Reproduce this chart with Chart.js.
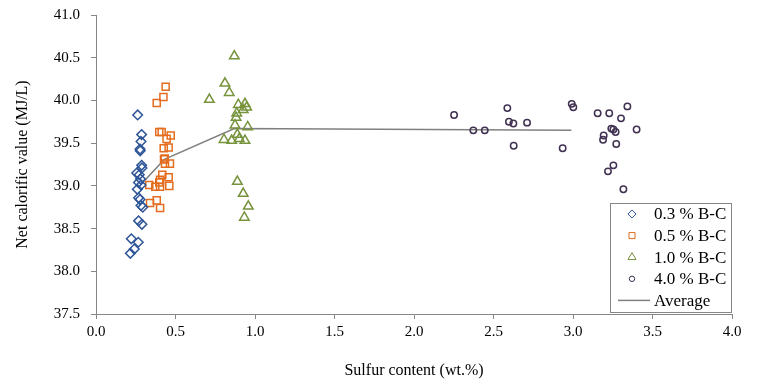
<!DOCTYPE html>
<html>
<head>
<meta charset="utf-8">
<script src="https://cdn.jsdelivr.net/npm/chart.js"></script>
<style>
  body { margin: 0; background: #fff; }
  #wrap { width: 761px; height: 388px; position: relative; }
</style>
</head>
<body>
<div id="wrap"><canvas id="myChart"></canvas></div>
<script>
// sulfur content (wt.%) and net calorific value (MJ/L)
var bc03Sulfur = [0.262, 0.287, 0.283, 0.277, 0.278, 0.287, 0.289, 0.256, 0.272, 0.280, 0.267, 0.283, 0.260, 0.268, 0.277, 0.283, 0.294, 0.268, 0.289, 0.222, 0.266, 0.241, 0.216];
var bc03Ncv    = [39.83, 39.60, 39.52, 39.43, 39.41, 39.24, 39.21, 39.15, 39.13, 39.08, 39.04, 39.01, 38.96, 38.86, 38.84, 38.77, 38.75, 38.59, 38.55, 38.38, 38.34, 38.26, 38.21];

var bc05Sulfur = [0.438, 0.424, 0.382, 0.398, 0.413, 0.470, 0.444, 0.457, 0.426, 0.432, 0.428, 0.434, 0.465, 0.417, 0.457, 0.403, 0.398, 0.335, 0.373, 0.403, 0.461, 0.340, 0.382, 0.403];
var bc05Ncv    = [40.16, 40.04, 39.97, 39.63, 39.63, 39.59, 39.55, 39.45, 39.44, 39.32, 39.31, 39.26, 39.26, 39.13, 39.10, 39.07, 39.04, 39.01, 38.99, 38.99, 39.00, 38.80, 38.83, 38.74];

var bc10Sulfur = [0.870, 0.811, 0.838, 0.713, 0.895, 0.937, 0.948, 0.926, 0.885, 0.881, 0.874, 0.954, 0.889, 0.805, 0.853, 0.901, 0.937, 0.889, 0.926, 0.958, 0.933];
var bc10Ncv    = [40.52, 40.20, 40.09, 40.01, 39.95, 39.96, 39.92, 39.89, 39.85, 39.80, 39.71, 39.69, 39.60, 39.54, 39.53, 39.55, 39.53, 39.05, 38.91, 38.76, 38.63];

var bc40Sulfur = [2.252, 2.587, 2.597, 2.625, 2.711, 2.373, 2.445, 2.627, 2.935, 2.992, 3.002, 3.155, 3.228, 3.342, 3.302, 3.400, 3.241, 3.254, 3.268, 3.193, 3.189, 3.272, 3.254, 3.220, 3.317];
var bc40Ncv    = [39.83, 39.91, 39.75, 39.73, 39.74, 39.65, 39.65, 39.47, 39.44, 39.96, 39.92, 39.85, 39.85, 39.93, 39.79, 39.66, 39.67, 39.66, 39.63, 39.59, 39.54, 39.49, 39.24, 39.17, 38.96];

var avgSulfur = [0.30, 0.43, 0.87, 2.99];
var avgNcv    = [39.05, 39.31, 39.67, 39.65];

var seriesLabels = ['0.3 % B-C', '0.5 % B-C', '1.0 % B-C', '4.0 % B-C', 'Average'];

function pairs(xs, ys) {
    return xs.map(function(x, i) { return { x: x, y: ys[i] }; });
}

var serif = "'Liberation Serif', 'Times New Roman', serif";
var axisGray = '#868686';

// legend with a frame, drawn in the lower right corner of the plot
var legendBox = {
    id: 'legendBox',
    afterDraw: function(chart) {
        var ctx = chart.ctx;
        var area = chart.chartArea;
        var w = 121, h = 109;
        var left = area.right - w - 1, top = area.bottom - h - 2;
        ctx.save();
        ctx.strokeStyle = axisGray;
        ctx.lineWidth = 1;
        ctx.strokeRect(Math.round(left) + 0.5, Math.round(top) + 0.5, w, h);
        ctx.font = '17px ' + serif;
        ctx.fillStyle = '#000';
        ctx.textBaseline = 'middle';
        chart.data.datasets.forEach(function(ds, i) {
            var y = top + 11 + i * 21.6;
            if (ds.type === 'line') {
                ctx.strokeStyle = ds.borderColor;
                ctx.lineWidth = ds.borderWidth;
                ctx.beginPath();
                ctx.moveTo(left + 8, y);
                ctx.lineTo(left + 40, y);
                ctx.stroke();
            } else {
                ctx.strokeStyle = ds.borderColor;
                ctx.fillStyle = 'rgba(0,0,0,0)';
                Chart.helpers.drawPoint(ctx, {
                    pointStyle: ds.pointStyle,
                    radius: ds.pointRadius * 0.85,
                    borderWidth: ds.borderWidth,
                    rotation: 0
                }, left + 22, y);
                ctx.fillStyle = '#000';
            }
            ctx.fillText(ds.label, left + 44, y + 1);
        });
        ctx.restore();
    }
};

var myChart = document.getElementById('myChart').getContext('2d');

var test = new Chart(myChart, {
    type: 'scatter',
    data: {
        datasets: [
            {
                label: seriesLabels[0],
                data: pairs(bc03Sulfur, bc03Ncv),
                pointStyle: 'rectRot',
                pointRadius: 4.8,
                borderColor: '#2E5597',
                backgroundColor: 'rgba(0,0,0,0)',
                borderWidth: 1.5
            },
            {
                label: seriesLabels[1],
                data: pairs(bc05Sulfur, bc05Ncv),
                pointStyle: 'rect',
                pointRadius: 5,
                borderColor: '#E46C1E',
                backgroundColor: 'rgba(0,0,0,0)',
                borderWidth: 1.5
            },
            {
                label: seriesLabels[2],
                data: pairs(bc10Sulfur, bc10Ncv),
                pointStyle: 'triangle',
                pointRadius: 5.5,
                borderColor: '#77933C',
                backgroundColor: 'rgba(0,0,0,0)',
                borderWidth: 1.5
            },
            {
                label: seriesLabels[3],
                data: pairs(bc40Sulfur, bc40Ncv),
                pointStyle: 'circle',
                pointRadius: 3.2,
                borderColor: '#403152',
                backgroundColor: 'rgba(0,0,0,0)',
                borderWidth: 1.5
            },
            {
                type: 'line',
                label: seriesLabels[4],
                data: pairs(avgSulfur, avgNcv),
                borderColor: '#808080',
                borderWidth: 1.5,
                pointRadius: 0,
                fill: false,
                tension: 0
            }
        ]
    },
    options: {
        responsive: true,
        maintainAspectRatio: false,
        animation: false,
        layout: {
            padding: { top: 15, right: 29, left: 0, bottom: 0 }
        },
        plugins: {
            legend: { display: false },
            tooltip: { enabled: false }
        },
        scales: {
            x: {
                type: 'linear',
                min: 0,
                max: 4,
                afterFit: function(scale) {
                    scale.height = 74;
                    scale.paddingLeft = 0;
                    scale.paddingRight = 0;
                },
                ticks: {
                    stepSize: 0.5,
                    color: '#000',
                    padding: 4,
                    font: { family: serif, size: 15 },
                    callback: function(v) { return v.toFixed(1); }
                },
                grid: {
                    drawOnChartArea: false,
                    drawTicks: true,
                    tickLength: 5,
                    color: axisGray
                },
                border: { display: true, color: axisGray, width: 1 },
                title: {
                    display: true,
                    text: 'Sulfur content (wt.%)',
                    color: '#000',
                    font: { family: serif, size: 16 },
                    padding: { top: 0, bottom: 8 }
                }
            },
            y: {
                type: 'linear',
                min: 37.5,
                max: 41,
                afterFit: function(scale) {
                    scale.width = 96;
                    scale.paddingTop = 0;
                    scale.paddingBottom = 0;
                },
                ticks: {
                    stepSize: 0.5,
                    color: '#000',
                    padding: 11,
                    font: { family: serif, size: 15 },
                    callback: function(v) { return v.toFixed(1); }
                },
                grid: {
                    drawOnChartArea: false,
                    drawTicks: true,
                    tickLength: 5,
                    color: axisGray
                },
                border: { display: true, color: axisGray, width: 1 },
                title: {
                    display: true,
                    text: 'Net calorific value (MJ/L)',
                    color: '#000',
                    font: { family: serif, size: 16 },
                    padding: { top: 13, bottom: 0 }
                }
            }
        }
    },
    plugins: [legendBox]
});
</script>
</body>
</html>
